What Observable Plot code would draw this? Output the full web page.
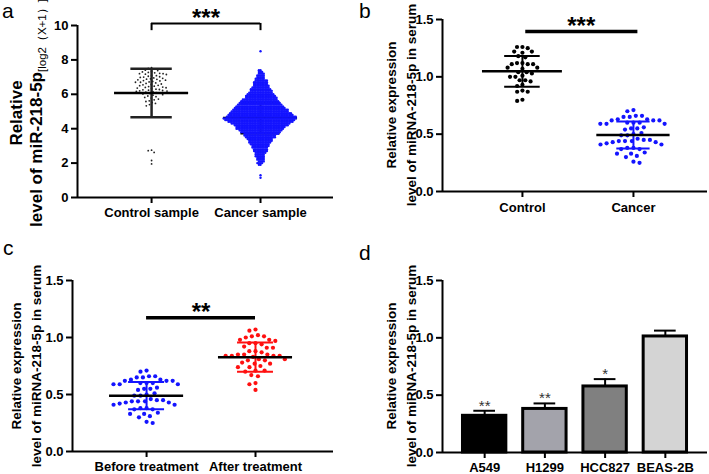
<!DOCTYPE html>
<html>
<head>
<meta charset="utf-8">
<script src="https://cdn.jsdelivr.net/npm/d3@7"></script>
<script src="https://cdn.jsdelivr.net/npm/@observablehq/plot@0.6"></script>
<style>
html, body { margin: 0; padding: 0; background: #fff; }
#fig { position: relative; width: 709px; height: 474px; overflow: hidden; font-family: "Liberation Sans", Arial, sans-serif; color: #000; }
.panel { position: absolute; }
.panel svg { overflow: visible; display: block; }
.lbl { position: absolute; font-size: 21px; line-height: 1; font-weight: normal; }
.ytitle { position: absolute; transform: translate(-50%, -50%) rotate(-90deg); white-space: nowrap; font-weight: bold; text-align: center; }
.sub { font-size: 11.5px; font-weight: normal; position: relative; top: 4px; }
[aria-label^="x-axis"] path, [aria-label^="x-axis"] line,
[aria-label^="y-axis"] path, [aria-label^="y-axis"] line { stroke-width: 2px; }
</style>
</head>
<body>
<div id="fig"></div>
<script>
// ---------------- Panel a data ----------------
const aGroups = ["Control sample", "Cancer sample"];
const aTicks = [0, 2, 4, 6, 8, 10];
const aControl = [7.55, 7.5, 7.48, 7.4, 7.38, 7.33, 7.3, 7.27, 7.25, 7.22, 7.2, 7.2, 7.17, 7.15, 7.1, 7.08,
  7.05, 7.02, 7.0, 6.98, 6.95, 6.93, 6.9, 6.88, 6.87, 6.84, 6.82, 6.8, 6.78, 6.75, 6.72, 6.7, 6.7,
  6.66, 6.63, 6.6, 6.57, 6.55, 6.52, 6.5, 6.47, 6.45, 6.42, 6.4, 6.38, 6.36, 6.33, 6.3, 6.28, 6.26,
  6.24, 6.22, 6.2, 6.19, 6.17, 6.15, 6.12, 6.1, 6.07, 6.05, 6.02, 5.98, 5.95, 5.9, 5.86, 5.82, 5.78,
  5.72, 5.68, 5.62, 5.58, 5.52, 5.47, 5.4, 5.33, 2.75, 2.72, 2.62, 2.15, 1.95];
// cancer samples: value levels and number of samples read at each level
const aCancerLevels = [8.5, 7.4, 7.3, 7.2, 7.1, 7.0, 6.9, 6.8, 6.7, 6.6, 6.5, 6.4, 6.3, 6.2, 6.1, 6.0,
  5.9, 5.8, 5.7, 5.6, 5.5, 5.4, 5.3, 5.2, 5.1, 5.0, 4.9, 4.8, 4.7, 4.6, 4.5, 4.4, 4.3, 4.2, 4.1, 4.0,
  3.9, 3.8, 3.7, 3.6, 3.5, 3.4, 3.3, 3.2, 3.1, 3.0, 2.9, 2.8, 2.7, 2.6, 2.5, 2.4, 2.3, 2.2, 2.1, 2.0,
  1.9, 1.3, 1.15];
const aCancerCounts = [1, 2, 3, 4, 5, 5, 6, 8, 9, 9, 10, 11, 13, 14, 15, 17,
  19, 20, 22, 24, 26, 28, 30, 32, 35, 36, 39, 41, 44, 46, 44, 41, 37, 34, 31, 30,
  27, 25, 22, 20, 19, 16, 15, 14, 12, 11, 10, 9, 9, 7, 6, 6, 5, 5, 4, 4,
  2, 1, 1];
const aMeans = [6.07, 4.62];
const aLow = [4.67, 3.72];
const aHigh = [7.48, 5.52];

// ---------------- Panel b data ----------------
const bGroups = ["Control", "Cancer"];
const bControl = [1.26, 1.26, 1.25, 1.22, 1.22, 1.21, 1.18, 1.17, 1.12, 1.12, 1.11, 1.11, 1.11,
  1.08, 1.08, 1.07, 1.04, 1.04, 1.03, 1.01, 1.0, 1.0, 0.97, 0.97, 0.96, 0.93, 0.92, 0.88, 0.87, 0.87,
  0.8, 0.79];
const bCancer = [0.71, 0.70, 0.66, 0.66, 0.65, 0.65, 0.63, 0.63, 0.62, 0.62, 0.62, 0.60, 0.60, 0.60,
  0.59, 0.59, 0.59, 0.56, 0.55, 0.55, 0.54, 0.51, 0.50, 0.49, 0.49, 0.46, 0.45, 0.45, 0.44, 0.44,
  0.44, 0.43, 0.43, 0.42, 0.41, 0.41, 0.38, 0.38, 0.37, 0.37, 0.34, 0.33, 0.33, 0.31, 0.30, 0.26, 0.25];
const bMeans = [1.048, 0.492];
const bLow = [0.914, 0.376];
const bHigh = [1.182, 0.611];

// ---------------- Panel c data ----------------
const cGroups = ["Before treatment", "After treatment"];
const cBefore = [0.71, 0.70, 0.66, 0.66, 0.65, 0.65, 0.63, 0.63, 0.62, 0.62, 0.62, 0.60, 0.60, 0.60,
  0.59, 0.59, 0.59, 0.56, 0.55, 0.55, 0.54, 0.51, 0.50, 0.49, 0.49, 0.46, 0.45, 0.45, 0.44, 0.44,
  0.44, 0.43, 0.43, 0.42, 0.41, 0.41, 0.38, 0.38, 0.37, 0.37, 0.34, 0.33, 0.33, 0.31, 0.30, 0.26, 0.25];
const cAfter = [1.07, 1.06, 1.02, 1.01, 1.01, 1.00, 0.98, 0.98, 0.97, 0.95, 0.95, 0.94, 0.92, 0.91,
  0.91, 0.88, 0.88, 0.87, 0.85, 0.85, 0.85, 0.84, 0.84, 0.84, 0.84, 0.83, 0.81, 0.81, 0.80, 0.80,
  0.78, 0.77, 0.77, 0.75, 0.74, 0.74, 0.71, 0.71, 0.70, 0.67, 0.66, 0.60, 0.59, 0.54];
const cMeans = [0.49, 0.827];
const cLow = [0.37, 0.70];
const cHigh = [0.61, 0.956];

// ---------------- Panel d data ----------------
const dCells = ["A549", "H1299", "HCC827", "BEAS-2B"];
const dValues = [0.32, 0.38, 0.576, 1.012];
const dErrTop = [0.364, 0.428, 0.64, 1.063];
const dStars = ["**", "**", "*", ""];

const expTicks = [0, 0.5, 1, 1.5];

// ---------------- styles ----------------
const dFillPalette = ["#000000", "#a3a3ab", "#808080", "#d4d4d4"];
const baseStyle = {fontFamily: '"Liberation Sans", Arial, sans-serif', fontSize: "13px", fontWeight: "bold", color: "#000", overflow: "visible"};
const BLUE = "#1414ff";
const RED = "#ff1010";

// beeswarm via Plot's dodge, re-centred on the group's x position
function dodgeAt(pos, data, opts, padding) {
  return Plot.dot(data, Plot.initializer(
    Plot.dodgeX({anchor: "middle", padding}, opts),
    function (d, facets, channels, scales, dims) {
      const mid = (dims.marginLeft + dims.width - dims.marginRight) / 2;
      const off = scales.x(pos) - mid;
      return {data: d, facets, channels: {x: {value: Float64Array.from(channels.x.value, v => v + off)}}};
    }));
}

function stats(groups, means, low, high) {
  return groups.map((g, i) => ({pos: i + 1, mean: means[i], low: low[i], high: high[i]}));
}

function errMarks(rows, meanHalf, capHalf, barColor, sw) {
  return [
    Plot.ruleX(rows, {x: "pos", y1: "low", y2: "high", stroke: barColor, strokeWidth: sw}),
    Plot.ruleY(rows, {y: "low", x1: d => d.pos - capHalf, x2: d => d.pos + capHalf, stroke: barColor, strokeWidth: sw}),
    Plot.ruleY(rows, {y: "high", x1: d => d.pos - capHalf, x2: d => d.pos + capHalf, stroke: barColor, strokeWidth: sw}),
    Plot.ruleY(rows, {y: "mean", x1: d => d.pos - meanHalf, x2: d => d.pos + meanHalf, stroke: "#000", strokeWidth: 2.5})
  ];
}

const fig = document.getElementById("fig");
function addPanel(svg, left, top) {
  const div = document.createElement("div");
  div.className = "panel";
  div.style.left = left + "px";
  div.style.top = top + "px";
  div.appendChild(svg);
  fig.appendChild(div);
}
function addLabel(text, left, top) {
  const d = document.createElement("div");
  d.className = "lbl";
  d.textContent = text;
  d.style.left = left + "px";
  d.style.top = top + "px";
  fig.appendChild(d);
}
function addTitle(html, cx, cy, size, lh) {
  const d = document.createElement("div");
  d.className = "ytitle";
  d.innerHTML = html;
  d.style.left = cx + "px";
  d.style.top = cy + "px";
  d.style.fontSize = size + "px";
  d.style.lineHeight = lh + "px";
  fig.appendChild(d);
}

// ---------------- Panel a ----------------
const aStats = stats(aGroups, aMeans, aLow, aHigh);
const aCancer = aCancerLevels.flatMap((v, i) => Array(aCancerCounts[i]).fill(v));
const aX = [0.32, 2.67];
const plotA = Plot.plot({
  width: 345, height: 225, marginLeft: 77, marginRight: 12, marginTop: 25, marginBottom: 28,
  style: baseStyle,
  x: {domain: aX, ticks: [1, 2], tickFormat: d => aGroups[d - 1], tickSize: 6, tickPadding: 4, label: null},
  y: {domain: [0, 10], ticks: aTicks, tickSize: 6, tickPadding: 3, label: null},
  marks: [
    ...errMarks(aStats.slice(1), 0.34, 0.18, "#000", 2),
    dodgeAt(2, aCancer, {y: d => d, r: 1.2, fill: BLUE}, -0.8),
    dodgeAt(1, aControl, {y: d => d, r: 0.9, fill: "#222"}, 1.6),
    ...errMarks(aStats.slice(0, 1), 0.34, 0.19, "#222", 2.5),
    Plot.ruleY([10.12], {x1: 1, x2: 2, strokeWidth: 2}),
    Plot.ruleX([1, 2], {y1: 9.7, y2: 10.12, strokeWidth: 2}),
    Plot.text(["***"], {x: 1.5, y: 9.95, lineAnchor: "bottom", fontSize: 24, fontWeight: "bold"}),
    Plot.ruleY([0], {strokeWidth: 2}),
    Plot.ruleX([aX[0]], {strokeWidth: 2})
  ]
});
addPanel(plotA, 0, 0);

// ---------------- Panel b ----------------
const bStats = stats(bGroups, bMeans, bLow, bHigh);
const bX = [0.28, 2.667];
const plotB = Plot.plot({
  width: 354, height: 225, marginLeft: 87, marginRight: 2, marginTop: 19, marginBottom: 34,
  style: baseStyle,
  x: {domain: bX, ticks: [1, 2], tickFormat: d => bGroups[d - 1], tickSize: 6, tickPadding: 5, label: null},
  y: {domain: [0, 1.5], ticks: expTicks, tickFormat: d3.format(".1f"), tickSize: 6, tickPadding: 3, label: null},
  marks: [
    dodgeAt(1, bControl, {y: d => d, r: 2.1, fill: "#000"}, 1.2),
    dodgeAt(2, bCancer, {y: d => d, r: 2.1, fill: BLUE}, 2),
    ...errMarks(bStats.slice(0, 1), 0.36, 0.16, "#000", 2),
    ...errMarks(bStats.slice(1), 0.33, 0.15, BLUE, 2),
    Plot.ruleY([1.395], {x1: 1.03, x2: 2.04, strokeWidth: 3.5}),
    Plot.text(["***"], {x: 1.53, y: 1.37, lineAnchor: "bottom", fontSize: 24, fontWeight: "bold"}),
    Plot.ruleY([0], {strokeWidth: 2}),
    Plot.ruleX([bX[0]], {strokeWidth: 2})
  ]
});
addPanel(plotB, 355, 0);

// ---------------- Panel c ----------------
const cStats = stats(cGroups, cMeans, cLow, cHigh);
const cX = [0.32, 2.716];
const plotC = Plot.plot({
  width: 345, height: 244, marginLeft: 72, marginRight: 12, marginTop: 50, marginBottom: 23,
  style: baseStyle,
  x: {domain: cX, ticks: [1, 2], tickFormat: d => cGroups[d - 1], tickSize: 6, tickPadding: 4, label: null},
  y: {domain: [0, 1.5], ticks: expTicks, tickFormat: d3.format(".1f"), tickSize: 6, tickPadding: 3, label: null},
  marks: [
    dodgeAt(1, cBefore, {y: d => d, r: 2.1, fill: BLUE}, 2),
    dodgeAt(2, cAfter, {y: d => d, r: 2.1, fill: RED}, 2),
    ...errMarks(cStats.slice(0, 1), 0.34, 0.165, BLUE, 2),
    ...errMarks(cStats.slice(1), 0.34, 0.165, RED, 2),
    Plot.ruleY([1.173], {x1: 1, x2: 2, strokeWidth: 3.5}),
    Plot.text(["**"], {x: 1.5, y: 1.15, lineAnchor: "bottom", fontSize: 24, fontWeight: "bold"}),
    Plot.ruleY([0], {strokeWidth: 2}),
    Plot.ruleX([cX[0]], {strokeWidth: 2})
  ]
});
addPanel(plotC, 0, 230);

// ---------------- Panel d ----------------
const dRows = dCells.map((c, i) => ({pos: i + 1, value: dValues[i], top: dErrTop[i], star: dStars[i], fill: dFillPalette[i]}));
const dX = [0.3, 4.7];
const plotD = Plot.plot({
  width: 354, height: 244, marginLeft: 87, marginRight: 2, marginTop: 50, marginBottom: 22,
  style: baseStyle,
  color: {type: "identity"},
  x: {domain: dX, ticks: [1, 2, 3, 4], tickFormat: d => dCells[d - 1], tickSize: 6, tickPadding: 4, label: null},
  y: {domain: [0, 1.5], ticks: expTicks, tickFormat: d3.format(".1f"), tickSize: 6, tickPadding: 3, label: null},
  marks: [
    Plot.ruleX(dRows, {x: "pos", y1: "value", y2: "top", strokeWidth: 2}),
    Plot.ruleY(dRows, {y: "top", x1: d => d.pos - 0.18, x2: d => d.pos + 0.18, strokeWidth: 2}),
    Plot.rectY(dRows, {x1: d => d.pos - 0.36, x2: d => d.pos + 0.36, y1: 0, y2: "value", fill: "fill", stroke: "#000", strokeWidth: 3}),
    Plot.text(dRows, {x: "pos", y: "top", text: "star", lineAnchor: "bottom", fontSize: 15, fontWeight: "normal", fill: "#333"}),
    Plot.ruleY([0], {strokeWidth: 2}),
    Plot.ruleX([dX[0]], {strokeWidth: 2})
  ]
});
addPanel(plotD, 355, 230);

// ---------------- panel letters & y titles ----------------
addLabel("a", 2, 0);
addLabel("b", 359, 0);
addLabel("c", 3, 237);
addLabel("d", 359, 242);
addTitle('Relative<br>level of miR-218-5p<span class="sub">[log2（X+1）]</span>', 27, 113, 17, 20);
addTitle('Relative expression<br>level of miRNA-218-5p in serum', 402, 105, 13.5, 20);
addTitle('Relative expression<br>level of miRNA-218-5p in serum', 27, 366, 13.5, 20);
addTitle('Relative expression<br>level of miRNA-218-5p in serum', 402, 366, 13.5, 20);
</script>
</body>
</html>
